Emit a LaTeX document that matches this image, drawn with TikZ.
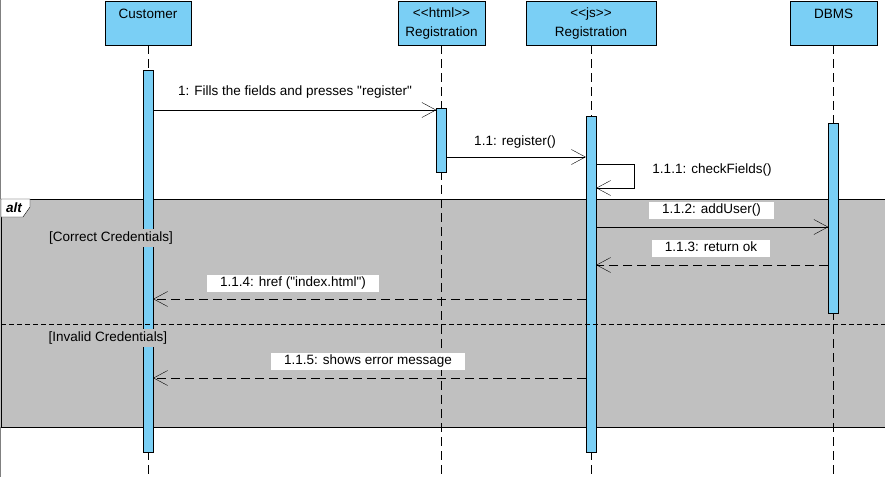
\documentclass[tikz,border=0pt]{standalone}
\usepackage{fontspec}
\setmainfont{Liberation Sans}[Ligatures=TeXOff]
\usetikzlibrary{arrows.meta}
\definecolor{lifeblue}{RGB}{122,207,245}
\definecolor{altgray}{RGB}{192,192,192}

\begin{document}
\begin{tikzpicture}[x=1pt,y=-1pt,
    font=\fontsize{13.5}{19}\selectfont,
    head/.style={draw,fill=lifeblue,minimum width=86pt,minimum height=44pt,align=center,inner sep=0pt,anchor=north},
    bar/.style={draw,fill=lifeblue,minimum width=10pt,inner sep=0pt,anchor=north},
    life/.style={dash pattern=on 9pt off 5pt},
    msg/.style={-{Straight Barb[length=14pt,width=15pt]}},
    reply/.style={msg,dash pattern=on 9pt off 5pt},
    tag/.style={fill=white,inner xsep=13pt,inner ysep=2pt,text height=10pt,text depth=3pt},
    guard/.style={fill=altgray,inner sep=3pt}]
    \useasboundingbox (0,0) rectangle (885,477);
    \draw[gray] (0.5,0) -- (0.5,477);
    % lifeline heads
    \node[head] (cust) at (148,1) {Customer\\~};
    \node[head,minimum width=87pt] (html) at (441.5,1) {<\kern0pt<html>\kern0pt>\\Registration};
    \node[head,minimum width=130pt] (js) at (591,1) {<\kern0pt<js>\kern0pt>\\Registration};
    \node[head,minimum width=87pt] (db) at (833.5,1) {DBMS\\~};
    % alt frame
    \fill[altgray] (0,199) rectangle (886,427);
    \draw (886,199) -- (1,199) -- (1,427) -- (886,427);
    \foreach \n in {cust,html,js,db}{
        \draw[life] (\n.south) -- (\n.south |- 0,477);
    };
    % activations
    \node[bar,minimum height=382pt] (custbar) at (cust.south |- 0,70) {};
    \node[bar,minimum height=64pt] (htmlbar) at (html.south |- 0,108) {};
    \node[bar,minimum height=336pt] (jsbar) at (js.south |- 0,116) {};
    \node[bar,minimum height=190pt] (dbbar) at (db.south |- 0,123) {};
    \draw[dash pattern=on 5pt off 3pt] (1,324) -- (885,324);
    \draw[fill=white] (1,199) -- (30,199) -- (30,207) -- (23,217) -- (1,217) -- cycle;
    \node[font=\fontsize{13.5}{19}\selectfont\bfseries\itshape,inner sep=0pt] (alttag) at (14,208) {alt};
    \node[guard] (okguard) at (111,238) {[Correct Credentials]};
    \node[guard] (badguard) at (108,338) {[Invalid Credentials]};
    % messages
    \draw[msg] (custbar.east |- 0,110) -- (htmlbar.west |- 0,110);
    \node (m1) at (295,92) {1: Fills the fields and presses "register"};
    \draw[msg] (htmlbar.east |- 0,157) -- (jsbar.west |- 0,157);
    \node (m11) at (515,142) {1.1: register()};
    \draw[msg] (jsbar.east |- 0,164) -- ++(38,0) -- ++(0,24) -- (jsbar.east |- 0,188);
    \node (m111) at (712,170) {1.1.1: checkFields()};
    \draw[msg] (jsbar.east |- 0,227) -- (dbbar.west |- 0,227);
    \node[tag] (m112) at (711.5,210) {1.1.2: addUser()};
    \draw[reply] (dbbar.west |- 0,265) -- (jsbar.east |- 0,265);
    \node[tag] (m113) at (711,248) {1.1.3: return ok};
    \draw[reply] (jsbar.west |- 0,299) -- (custbar.east |- 0,299);
    \node[tag] (m114) at (293,283) {1.1.4: href ("index.html")};
    \draw[reply] (jsbar.west |- 0,378) -- (custbar.east |- 0,378);
    \node[tag] (m115) at (368,361) {1.1.5: shows error message};
\end{tikzpicture}
\end{document}
